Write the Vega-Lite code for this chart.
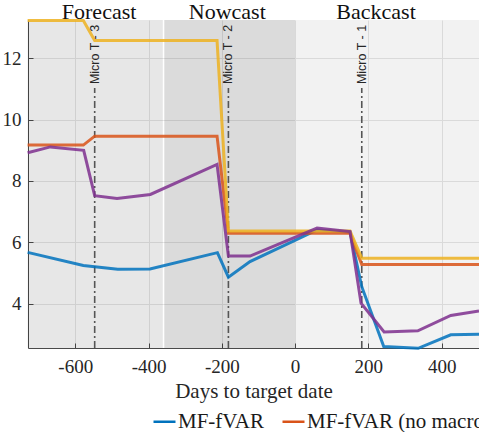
{
  "$schema": "https://vega.github.io/schema/vega-lite/v6.json",
  "width": 451,
  "height": 328,
  "autosize": {"type": "none"},
  "padding": {"left": 28, "top": 20, "right": 0, "bottom": 84},
  "background": "white",
  "config": {
    "view": {"stroke": null},
    "font": "Liberation Serif",
    "axis": {
      "gridColor": "#e6e6e6",
      "gridWidth": 1,
      "domainColor": "#4a4a4a",
      "tickColor": "#4a4a4a",
      "labelColor": "#262626",
      "labelFont": "Liberation Serif",
      "labelFontSize": 19,
      "titleFont": "Liberation Serif",
      "titleFontSize": 21,
      "titleFontWeight": "normal",
      "titleColor": "#262626"
    }
  },
  "datasets": {
    "regions": [
      {"name": "Forecast", "start": -730, "end": -361, "mid": -535},
      {"name": "Nowcast", "start": -357, "end": 0, "mid": -185},
      {"name": "Backcast", "start": 0, "end": 502, "mid": 221}
    ],
    "micro": [
      {"label": "Micro T - 3", "day": -547},
      {"label": "Micro T - 2", "day": -182},
      {"label": "Micro T - 1", "day": 182}
    ],
    "series": [
      {"series": "MF-fVAR", "day": -730, "value": 5.67},
      {"series": "MF-fVAR", "day": -578, "value": 5.24},
      {"series": "MF-fVAR", "day": -484, "value": 5.12},
      {"series": "MF-fVAR", "day": -396, "value": 5.13},
      {"series": "MF-fVAR", "day": -212, "value": 5.66},
      {"series": "MF-fVAR", "day": -182, "value": 4.86},
      {"series": "MF-fVAR", "day": -123, "value": 5.37},
      {"series": "MF-fVAR", "day": 60, "value": 6.4},
      {"series": "MF-fVAR", "day": 150, "value": 6.33},
      {"series": "MF-fVAR", "day": 182, "value": 4.55},
      {"series": "MF-fVAR", "day": 242, "value": 2.6},
      {"series": "MF-fVAR", "day": 336, "value": 2.54},
      {"series": "MF-fVAR", "day": 425, "value": 2.98},
      {"series": "MF-fVAR", "day": 502, "value": 3.0},
      {"series": "MF-fVAR (no macro)", "day": -730, "value": 9.17},
      {"series": "MF-fVAR (no macro)", "day": -578, "value": 9.17},
      {"series": "MF-fVAR (no macro)", "day": -547, "value": 9.46},
      {"series": "MF-fVAR (no macro)", "day": -213, "value": 9.46},
      {"series": "MF-fVAR (no macro)", "day": -182, "value": 6.29},
      {"series": "MF-fVAR (no macro)", "day": 150, "value": 6.29},
      {"series": "MF-fVAR (no macro)", "day": 182, "value": 5.27},
      {"series": "MF-fVAR (no macro)", "day": 502, "value": 5.27},
      {"series": "MF-fVAR (no survey)", "day": -730, "value": 13.23},
      {"series": "MF-fVAR (no survey)", "day": -578, "value": 13.23},
      {"series": "MF-fVAR (no survey)", "day": -547, "value": 12.58},
      {"series": "MF-fVAR (no survey)", "day": -213, "value": 12.58},
      {"series": "MF-fVAR (no survey)", "day": -182, "value": 6.37},
      {"series": "MF-fVAR (no survey)", "day": 150, "value": 6.37},
      {"series": "MF-fVAR (no survey)", "day": 182, "value": 5.48},
      {"series": "MF-fVAR (no survey)", "day": 502, "value": 5.48},
      {"series": "MF-fVAR (no financial)", "day": -730, "value": 8.92},
      {"series": "MF-fVAR (no financial)", "day": -668, "value": 9.11},
      {"series": "MF-fVAR (no financial)", "day": -577, "value": 9.0},
      {"series": "MF-fVAR (no financial)", "day": -547, "value": 7.52},
      {"series": "MF-fVAR (no financial)", "day": -486, "value": 7.43},
      {"series": "MF-fVAR (no financial)", "day": -395, "value": 7.56},
      {"series": "MF-fVAR (no financial)", "day": -213, "value": 8.54},
      {"series": "MF-fVAR (no financial)", "day": -182, "value": 5.55},
      {"series": "MF-fVAR (no financial)", "day": -123, "value": 5.55},
      {"series": "MF-fVAR (no financial)", "day": 60, "value": 6.46},
      {"series": "MF-fVAR (no financial)", "day": 150, "value": 6.35},
      {"series": "MF-fVAR (no financial)", "day": 180, "value": 4.01},
      {"series": "MF-fVAR (no financial)", "day": 243, "value": 3.07},
      {"series": "MF-fVAR (no financial)", "day": 335, "value": 3.11},
      {"series": "MF-fVAR (no financial)", "day": 425, "value": 3.61},
      {"series": "MF-fVAR (no financial)", "day": 502, "value": 3.76}
    ]
  },
  "layer": [
    {
      "data": {"name": "regions"},
      "transform": [{"filter": "datum.name === 'Forecast'"}],
      "mark": {"type": "rect", "fill": "black", "opacity": 0.095},
      "encoding": {
        "x": {
          "field": "start", "type": "quantitative",
          "scale": {"domain": [-729, 502], "nice": false, "zero": false},
          "axis": {
            "values": [-600, -400, -200, 0, 200, 400],
            "title": "Days to target date",
            "grid": true,
            "tickSize": -5,
            "labelPadding": 14,
            "titlePadding": 4,
            "labelExpr": "replace(datum.label, '\u2212', '-')"
          }
        },
        "x2": {"field": "end"}
      }
    },
    {
      "data": {"name": "regions"},
      "transform": [{"filter": "datum.name === 'Nowcast'"}],
      "mark": {"type": "rect", "fill": "black", "opacity": 0.14},
      "encoding": {
        "x": {"field": "start", "type": "quantitative"},
        "x2": {"field": "end"}
      }
    },
    {
      "data": {"name": "regions"},
      "transform": [{"filter": "datum.name === 'Backcast'"}],
      "mark": {"type": "rect", "fill": "black", "opacity": 0.05},
      "encoding": {
        "x": {"field": "start", "type": "quantitative"},
        "x2": {"field": "end"}
      }
    },
    {
      "data": {"name": "micro"},
      "mark": {"type": "rule", "color": "#555555", "strokeWidth": 1.6, "strokeDash": [7, 3, 2, 3]},
      "encoding": {
        "x": {"field": "day", "type": "quantitative"},
        "y": {"datum": 2.55, "type": "quantitative"},
        "y2": {"datum": 11.03}
      }
    },
    {
      "data": {"name": "series"},
      "mark": {"type": "line", "strokeWidth": 3, "strokeOpacity": 0.85},
      "encoding": {
        "x": {"field": "day", "type": "quantitative"},
        "y": {
          "field": "value", "type": "quantitative",
          "scale": {"domain": [2.55, 13.25], "nice": false, "zero": false},
          "axis": {
            "values": [4, 6, 8, 10, 12],
            "title": null,
            "grid": true,
            "tickSize": -5,
            "labelPadding": 12
          }
        },
        "color": {
          "field": "series", "type": "nominal",
          "scale": {
            "domain": ["MF-fVAR", "MF-fVAR (no macro)", "MF-fVAR (no survey)", "MF-fVAR (no financial)"],
            "range": ["#0072BD", "#D95319", "#EDB120", "#7E2F8E"]
          },
          "legend": {
            "title": null,
            "orient": "none",
            "legendX": 124,
            "legendY": 389,
            "direction": "horizontal",
            "columns": 4,
            "padding": 0,
            "symbolType": "stroke",
            "symbolSize": 484,
            "symbolStrokeWidth": 2.5,
            "symbolOpacity": 1,
            "labelFont": "Liberation Serif",
            "labelFontSize": 21,
            "labelColor": "#1a1a1a",
            "labelOffset": 1,
            "columnPadding": 13,
            "labelLimit": 400
          }
        }
      }
    },
    {
      "data": {"name": "micro"},
      "mark": {"type": "text", "angle": 270, "align": "left", "baseline": "middle", "font": "Liberation Sans", "fontSize": 12.5, "color": "#262626"},
      "encoding": {
        "x": {"field": "day", "type": "quantitative"},
        "y": {"datum": 11.16, "type": "quantitative"},
        "text": {"field": "label"}
      }
    },
    {
      "data": {"name": "regions"},
      "mark": {"type": "text", "align": "center", "baseline": "alphabetic", "dy": -1, "font": "Liberation Serif", "fontSize": 22, "color": "#111111"},
      "encoding": {
        "x": {"field": "mid", "type": "quantitative"},
        "y": {"datum": 13.25, "type": "quantitative"},
        "text": {"field": "name"}
      }
    }
  ]
}
